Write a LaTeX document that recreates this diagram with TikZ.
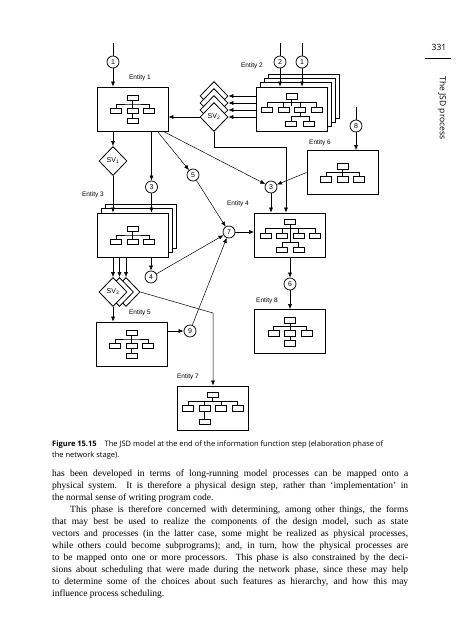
\documentclass[tikz,border=0pt]{standalone}
\usepackage{fontspec}
\setmainfont{Liberation Serif}
\setsansfont{Liberation Sans}
\newfontfamily\didafont{Open Sans}
\usetikzlibrary{arrows.meta,shapes.geometric}
\newcommand{\riga}[1]{\makebox[356pt][s]{#1}}
\tikzset{
>={Latex[length=5pt,width=4pt]},
entita/.style={draw,fill=white,line width=0.9pt,minimum width=71pt,minimum height=44pt,inner sep=0pt},
foglia/.style={draw,fill=white,line width=0.5pt,minimum width=11pt,minimum height=5.5pt,inner sep=0pt},
cerchio/.style={circle,draw,fill=white,line width=0.75pt,minimum size=12pt,inner sep=0pt,font=\sffamily\fontsize{7}{7}\selectfont},
vettore/.style={diamond,draw,fill=white,line width=0.8pt,minimum width=28pt,minimum height=29pt,inner sep=0pt,font=\sffamily\fontsize{7}{7}\selectfont},
etichetta/.style={inner sep=0pt,font=\sffamily\fontsize{6.5}{7}\selectfont},
freccia/.style={->,line width=0.5pt},
linea/.style={line width=0.5pt},
ramo/.style={line width=0.4pt},
corpo/.style={anchor=base west,inner sep=0pt,font=\fontsize{9.5}{12}\selectfont},
didascalia/.style={anchor=base west,inner sep=0pt,font=\didafont\fontsize{7.5}{11}\selectfont},
% alberi dentro le entita
alberoA/.pic={
 \node[foglia] (-t) at (0,-11.5) {};
 \node[foglia] (-a) at (-16.5,1.5) {};
 \node[foglia] (-b) at (0,1.5) {};
 \node[foglia] (-c) at (16.5,1.5) {};
 \node[foglia] (-d) at (0,11.5) {};
 \draw[ramo] (-t) -- (-b) -- (-d);
 \draw[ramo] (-a.north) |- (0,-5) -| (-c.north);
},
alberoB/.pic={
 \node[foglia] (-t) at (0,-6.5) {};
 \node[foglia] (-a) at (-16.5,6.5) {};
 \node[foglia] (-b) at (0,6.5) {};
 \node[foglia] (-c) at (16.5,6.5) {};
 \draw[ramo] (-t) -- (-b);
 \draw[ramo] (-a.north) |- (0,0) -| (-c.north);
},
alberoC/.pic={
 \node[foglia] (-t) at (0,-13.5) {};
 \node[foglia] (-a) at (-24.75,0.5) {};
 \node[foglia] (-b) at (-8.25,0.5) {};
 \node[foglia] (-c) at (8.25,0.5) {};
 \node[foglia] (-d) at (24.75,0.5) {};
 \node[foglia] (-e) at (-8.25,14.5) {};
 \node[foglia] (-f) at (8.25,14.5) {};
 \draw[ramo] (-t.south) -- (0,7.5);
 \draw[ramo] (-a.north) |- (0,-6.5) -| (-d.north);
 \draw[ramo] (-b.north) -- ++(0,-4.25);
 \draw[ramo] (-c.north) -- ++(0,-4.25);
 \draw[ramo] (-e.north) |- (0,7.5) -| (-f.north);
},
alberoE/.pic={
 \node[foglia] (-t) at (0,-13) {};
 \node[foglia] (-a) at (-24.75,0.5) {};
 \node[foglia] (-b) at (-8.25,0.5) {};
 \node[foglia] (-c) at (8.25,0.5) {};
 \node[foglia] (-d) at (24.75,0.5) {};
 \node[foglia] (-e) at (-0.75,14.5) {};
 \node[foglia] (-f) at (17.25,14.5) {};
 \draw[ramo] (-t.south) -- ++(0,6.75);
 \draw[ramo] (-a.north) |- (0,-6.5) -| (-d.north);
 \draw[ramo] (-b.north) -- ++(0,-4.25);
 \draw[ramo] (-c.north) -- ++(0,-4.25);
 \draw[ramo] (-c.south) -- ++(0,4.25);
 \draw[ramo] (-e.north) |- (8.25,7.5) -| (-f.north);
},
alberoD/.pic={
 \node[foglia] (-t) at (0,-13.5) {};
 \node[foglia] (-a) at (-24.75,0) {};
 \node[foglia] (-b) at (-8.25,0) {};
 \node[foglia] (-c) at (8.25,0) {};
 \node[foglia] (-d) at (24.75,0) {};
 \node[foglia] (-e) at (-8.25,13.5) {};
 \draw[ramo] (-t.south) -- ++(0,4);
 \draw[ramo] (-a.north) |- (0,-6.75) -| (-d.north);
 \draw[ramo] (-b.north) -- ++(0,-4);
 \draw[ramo] (-c.north) -- ++(0,-4);
 \draw[ramo] (-b) -- (-e);
}}

\begin{document}
\begin{tikzpicture}[x=1pt,y=-1pt]

\fill[white] (0,0) rectangle (471,640);
\useasboundingbox (0,0) rectangle (471,640);

% entita
\node[entita] (e1) at (132.5,109) {};
\foreach \k in {3,2,1}
  \node[entita] (e2s\k) at (291.5+4.2*\k,109-4.2*\k) {};
\node[entita] (e2) at (291.5,109) {};
\foreach \k in {2,1}
  \node[entita] (e3s\k) at (132.5+4.2*\k,235-4.2*\k) {};
\node[entita] (e3) at (132.5,235) {};
\node[entita] (e4) at (290,235) {};
\node[entita] (e5) at (131.5,344) {};
\node[entita] (e6) at (342.5,172.5) {};
\node[entita] (e7) at (212.5,408) {};
\node[entita] (e8) at (290,331.5) {};

\pic (a1) at (e1) {alberoA};
\pic (a2) at (e2) {alberoE};
\pic (a3) at (e3) {alberoB};
\pic (a4) at (e4) {alberoC};
\pic (a5) at (e5) {alberoA};
\pic (a6) at (e6) {alberoB};
\pic (a7) at (e7) {alberoD};
\pic (a8) at (e8) {alberoA};

\node[etichetta] (l1) at (140,78) {Entity 1};
\node[etichetta] (l2) at (252,66) {Entity 2};
\node[etichetta] (l3) at (93,195) {Entity 3};
\node[etichetta] (l4) at (238,204) {Entity 4};
\node[etichetta] (l5) at (140,313) {Entity 5};
\node[etichetta] (l6) at (320,143) {Entity 6};
\node[etichetta] (l7) at (188,377) {Entity 7};
\node[etichetta] (l8) at (267,301) {Entity 8};

% vettori di stato
\foreach \k/\y in {d/96,c/103,b/110}
  \node[vettore] (sv2\k) at (214,\y) {};
\node[vettore] (sv2) at (214,117) {SV\textsubscript{2}};
\node[vettore] (sv1) at (113,161) {SV\textsubscript{1}};
\foreach \k/\x in {c/126,b/119.5}
  \node[vettore] (sv3\k) at (\x,292) {};
\node[vettore] (sv3) at (113,292) {SV\textsubscript{3}};

% cerchi
\node[cerchio] (c1a) at (113,62) {1};
\node[cerchio] (c2) at (280,62) {2};
\node[cerchio] (c1b) at (302,62) {1};
\node[cerchio] (c8) at (356,126) {8};
\node[cerchio] (c3a) at (151.5,187) {3};
\node[cerchio] (c5) at (193,175) {5};
\node[cerchio] (c3b) at (271,187) {3};
\node[cerchio] (c7) at (229,232) {7};
\node[cerchio] (c4) at (151,277) {4};
\node[cerchio] (c6) at (290,284) {6};
\node[cerchio] (c9) at (190,331) {9};

\coordinate (i1) at (113,43);
\coordinate (i2) at (280,43);
\coordinate (i3) at (302,43);
\coordinate (i8) at (356,107);
\coordinate (k2) at (286,147);
\coordinate (k7) at (213,313);

\draw[linea] (i1) -- (c1a);
\draw[linea] (i2) -- (c2);
\draw[linea] (i3) -- (c1b);
\draw[linea] (i8) -- (c8);

\path[freccia] (c1a) edge (c1a |- e1.north);
\path[freccia] (c2) edge (c2 |- e2.north);
\path[freccia] (c1b) edge (c1b |- e2.north);
\path[freccia] (c8) edge (c8 |- e6.north);
\foreach \n in {sv2d,sv2c,sv2b,sv2}
  \path[freccia] (e2.west |- \n.east) edge (\n.east);
\path[freccia] (sv2) edge (sv2 -| e1.east);
\draw[freccia] (sv2.south) |- (k2) -- (k2 |- e4.north);
\path[freccia] (e1.south -| sv1) edge (sv1);
\path[freccia] (sv1) edge (sv1 |- e3.north);
\path[freccia] (e1.south -| c3a) edge (c3a);
\path[freccia] (c3a) edge (c3a |- e3.north);
\path[freccia] (e1.-42) edge (c5);
\path[freccia] (e1.-36) edge (c3b);
\path[freccia] (e6.west) edge (c3b);
\path[freccia] (c3b) edge (c3b |- e4.north);
\path[freccia] (c5) edge (c7);
\foreach \n in {sv3,sv3b,sv3c}
  \path[freccia] (e3.south -| \n) edge (\n.north);
\path[freccia] (e3.south -| c4) edge (c4);
\path[freccia] (c4) edge (c7);
\path[freccia] (sv3) edge (sv3 |- e5.north);
\draw[freccia] (sv3c.east) -- (k7) -- (k7 |- e7.north);
\path[freccia] (e5.east |- c9) edge (c9);
\path[freccia] (c9) edge (c7);
\path[freccia] (c7) edge (c7 -| e4.west);
\path[freccia] (e4.south -| c6) edge (c6);
\path[freccia] (c6) edge (c6 |- e8.north);

% pagina
\node[inner sep=0pt,anchor=base,font=\didafont\fontsize{8.5}{10}\selectfont] (pagina) at (439,50) {331};
\draw[line width=0.6pt] (425,58) -- (451,58);
\node[inner sep=0pt,rotate=-90,font=\didafont\fontsize{8.5}{10}\selectfont] (testata) at (442,108) {The JSD process};

\node[didascalia] (d1) at (52,446) {\textbf{Figure 15.15}\hspace{8pt}The JSD model at the end of the information function step (elaboration phase of};
\node[didascalia] (d2) at (52,457) {the network stage).};

\node[corpo] (r1) at (52,476) {\riga{has been developed in terms of long-running model processes can be mapped onto a}};
\node[corpo] (r2) at (52,488) {\riga{physical system. It is therefore a physical design step, rather than ‘implementation’ in}};
\node[corpo] (r3) at (52,500) {the normal sense of writing program code.};
\node[corpo] (r4) at (70,512) {\makebox[338pt][s]{This phase is therefore concerned with determining, among other things, the forms}};
\node[corpo] (r5) at (52,524) {\riga{that may best be used to realize the components of the design model, such as state}};
\node[corpo] (r6) at (52,536) {\riga{vectors and processes (in the latter case, some might be realized as physical processes,}};
\node[corpo] (r7) at (52,548) {\riga{while others could become subprograms); and, in turn, how the physical processes are}};
\node[corpo] (r8) at (52,560) {\riga{to be mapped onto one or more processors. This phase is also constrained by the deci-}};
\node[corpo] (r9) at (52,572) {\riga{sions about scheduling that were made during the network phase, since these may help}};
\node[corpo] (r10) at (52,584) {\riga{to determine some of the choices about such features as hierarchy, and how this may}};
\node[corpo] (r11) at (52,596) {influence process scheduling.};

\end{tikzpicture}
\end{document}
